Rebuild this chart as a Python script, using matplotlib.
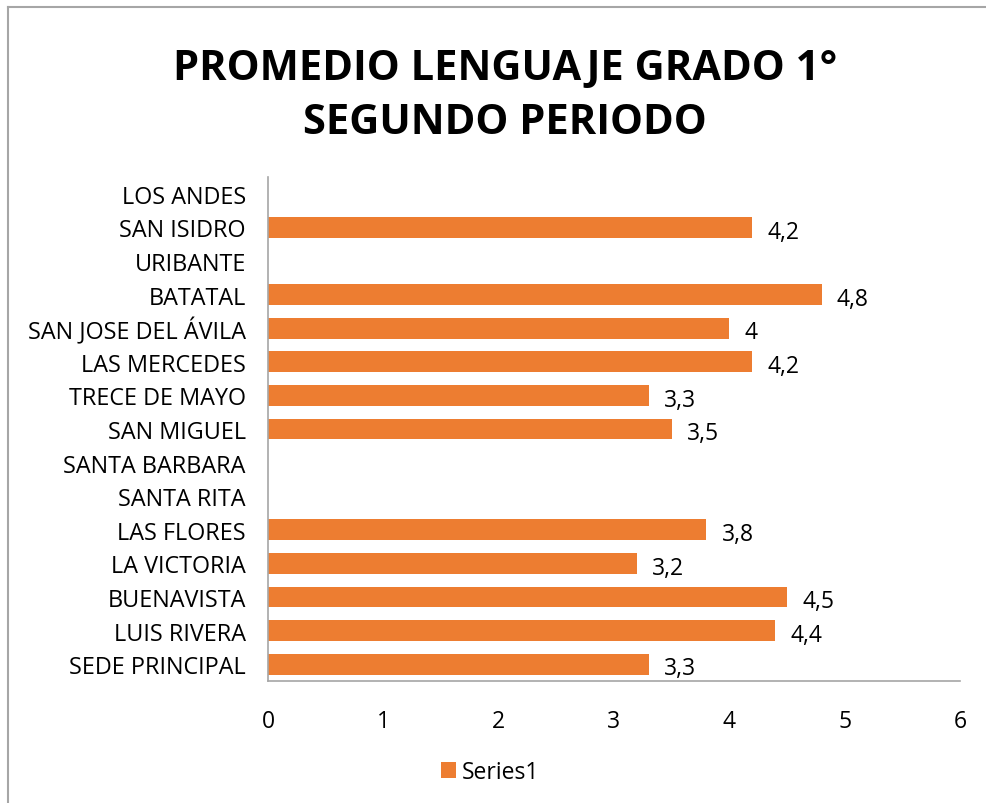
"""
Promedio lenguaje grado 1° — segundo periodo, barras horizontales por sede.
"""
import matplotlib
matplotlib.use("Agg")
import matplotlib.pyplot as plt
from matplotlib.lines import Line2D
import numpy as np

# sedes de abajo hacia arriba (orden del eje Y)
sedes = ["SEDE PRINCIPAL", "LUIS RIVERA", "BUENAVISTA", "LA VICTORIA", "LAS FLORES",
         "SANTA RITA", "SANTA BARBARA", "SAN MIGUEL", "TRECE DE MAYO", "LAS MERCEDES",
         "SAN JOSE DEL ÁVILA", "BATATAL", "URIBANTE", "SAN ISIDRO", "LOS ANDES"]
promedios = [3.3, 4.4, 4.5, 3.2, 3.8,
             None, None, 3.5, 3.3, 4.2,
             4.0, 4.8, None, 4.2, None]
ticks_x = [0, 1, 2, 3, 4, 5, 6]

NARANJA = "#ED7D31"
GRIS = "#A6A6A6"
FUENTE = "Open Sans"

plt.rcParams["font.family"] = [FUENTE, "DejaVu Sans"]

fig = plt.figure(figsize=(9.86, 8.04), dpi=100)
ax = fig.add_axes([0.2718, 0.1517, 0.7018, 0.6269])

y = np.arange(len(sedes))
vals = [v if v is not None else 0 for v in promedios]
bars = ax.barh(y, vals, height=0.62, color=NARANJA, label="Series1")

for yi, v in zip(y, promedios):
    if v is None:
        continue
    txt = f"{v:g}".replace(".", ",")
    ax.annotate(txt, (v, yi), xytext=(11, -3), textcoords="offset points",
                ha="left", va="center", fontsize=16.5, color="#000000")

ax.set_xlim(0, 6)
ax.set_ylim(-0.5, len(sedes) - 0.5)
ax.set_xticks(ticks_x)
ax.set_xticklabels([str(t) for t in ticks_x], fontsize=16.5)
ax.set_yticks(y)
ax.set_yticklabels(sedes, fontsize=16.8)
ax.tick_params(axis="both", length=0)
ax.tick_params(axis="x", pad=20)
ax.tick_params(axis="y", pad=16)

for s in ["top", "right"]:
    ax.spines[s].set_visible(False)
for s in ["left", "bottom"]:
    ax.spines[s].set_color(GRIS)
    ax.spines[s].set_linewidth(1.2)

fig.text(0.5125, 0.880, "PROMEDIO LENGUAJE GRADO 1°\nSEGUNDO PERIODO",
         ha="center", va="center", fontsize=30, fontweight="bold",
         linespacing=1.45)

fig.legend(handles=[bars], labels=["Series1"], loc="center",
           bbox_to_anchor=(0.497, 0.0385), frameon=False, fontsize=16.5,
           handlelength=0.65, handleheight=0.65, handletextpad=0.25)

# borde del área del gráfico (solo se ven arriba e izquierda)
fig.add_artist(Line2D([8 / 986, 8 / 986], [0, 1 - 8 / 804], transform=fig.transFigure,
                      color=GRIS, lw=1.5))
fig.add_artist(Line2D([8 / 986, 1], [1 - 8 / 804, 1 - 8 / 804], transform=fig.transFigure,
                      color=GRIS, lw=1.5))

fig.savefig("out.png", dpi=100)
